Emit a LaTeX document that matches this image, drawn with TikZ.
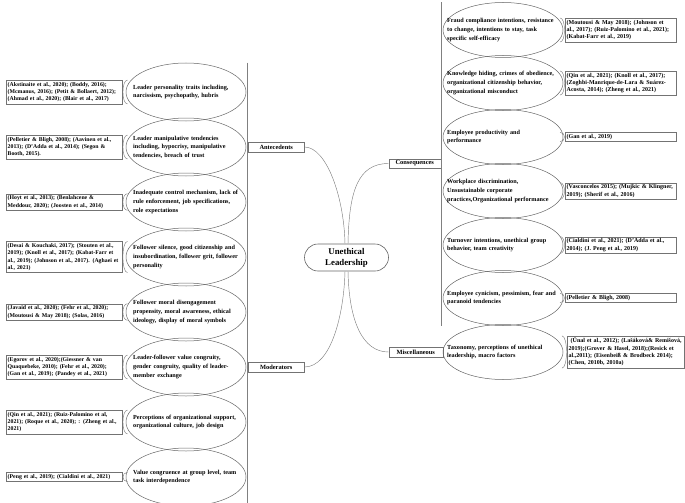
\documentclass[tikz,border=0pt]{standalone}
\usepackage{fontspec}
\setmainfont{Liberation Serif}
\usetikzlibrary{shapes.geometric}
\newcommand\cfnt{\fontsize{6.0}{7.3}\selectfont\bfseries\hyphenpenalty=10000 \exhyphenpenalty=10000 }
\newcommand\lcfnt{\fontsize{5.8}{7.3}\selectfont\bfseries\hyphenpenalty=10000 \exhyphenpenalty=10000 }
\newcommand\efnt{\fontsize{6.2}{8.6}\selectfont\bfseries\hyphenpenalty=10000 \exhyphenpenalty=10000 }
\newcommand\kfnt{\fontsize{6.4}{7}\selectfont\bfseries}
\newcommand\mfnt{\fontsize{8.8}{11}\selectfont\bfseries}
\begin{document}
\begin{tikzpicture}[x=1pt,y=-1pt,
 line/.style={draw=black!50, line width=0.45pt},
 cite/.style={draw=black!55, line width=0.45pt, font=\cfnt, align=left, text width=#1, inner xsep=1.5pt, inner ysep=1.8pt, anchor=west},
 lcite/.style={cite=#1, font=\lcfnt},
 oval/.style={draw=black!60, line width=0.5pt, ellipse, minimum width=120pt, minimum height=#1, inner sep=0pt},
 otext/.style={font=\efnt, align=left, text width=120pt, inner sep=0pt, anchor=west},
 cat/.style={draw=black!55, line width=0.45pt, font=\kfnt, minimum height=9.5pt, inner ysep=0.5pt, inner xsep=1pt, anchor=west, minimum width=#1},
 core/.style={draw=black!60, line width=0.6pt, rounded corners=13.5pt, minimum width=84pt, minimum height=27pt, font=\mfnt, align=center, inner sep=1pt}
]
\useasboundingbox (0,0) rectangle (685,503);

% centre
\node[core] (c) at (346.5,257.5) {Unethical\\Leadership};

% categories
\node[cat=56pt] (ant) at (248,147) {Antecedents};
\node[cat=56pt] (mod) at (248,367) {Moderators};
\node[cat=52pt, anchor=east] (con) at (441,163.5) {Consequences};
\node[cat=54pt, anchor=east] (mis) at (443,352) {Miscellaneous};

% left ellipses
\node[oval=58pt] (e1) at (186,92) {};
\node[oval=58pt] (e2) at (186,147) {};
\node[oval=58pt] (e3) at (186,202) {};
\node[oval=58pt] (e4) at (186,257) {};
\node[oval=58pt] (e5) at (186,312) {};
\node[oval=58pt] (e6) at (186,367) {};
\node[oval=58pt] (e7) at (186,422) {};
\node[oval=58pt] (e8) at (186,477) {};
\node[otext] (t1) at ([xshift=-53pt]e1.center) {Leader personality traits including,\\narcissism, psychopathy, hubris};
\node[otext] (t2) at ([xshift=-53pt]e2.center) {Leader manipulative tendencies\\including, hypocrisy, manipulative\\tendencies, breach of trust};
\node[otext] (t3) at ([xshift=-53pt]e3.center) {Inadequate control mechanism, lack of\\rule enforcement, job specifications,\\role expectations};
\node[otext] (t4) at ([xshift=-53pt]e4.center) {Follower silence, good citizenship and\\insubordination, follower grit, follower\\personality};
\node[otext] (t5) at ([xshift=-53pt]e5.center) {Follower moral disengagement\\propensity, moral awareness, ethical\\ideology, display of moral symbols};
\node[otext] (t6) at ([xshift=-53pt]e6.center) {Leader-follower value congruity,\\gender congruity, quality of leader-\\member exchange};
\node[otext] (t7) at ([xshift=-53pt]e7.center) {Perceptions of organizational support,\\organizational culture, job design};
\node[otext] (t8) at ([xshift=-53pt]e8.center) {Value congruence at group level, team\\task interdependence};

% left citation boxes
\node[lcite=113pt] (b1) at (6,92) {(Akstinaite et al., 2020); (Boddy, 2016);\\(Mcmanus, 2016); (Petit \& Bollaert, 2012);\\(Ahmad et al., 2020); (Blair et al., 2017)};
\node[lcite=113pt] (b2) at (6,147) {(Pelletier \& Bligh, 2008); (Aavinen et al.,\\2013); (D'Adda et al., 2014); (Segon \&\\Booth, 2015).};
\node[lcite=113pt] (b3) at (6,202) {(Hoyt et al., 2013); (Benlahcene \&\\Meddour, 2020); (Joosten et al., 2014)};
\node[lcite=113pt] (b4) at (6,257) {(Desai \& Kouchaki, 2017); (Stouten et al.,\\2019); (Knoll et al., 2017); (Kabat-Farr et\\al., 2019); (Johnson et al., 2017). (Aghaei~et\\al., 2021)};
\node[lcite=113pt] (b5) at (6,312) {(Javaid et al., 2020); (Fehr et al., 2020);\\(Moutousi \& May 2018); (Solas, 2016)};
\node[lcite=113pt] (b6) at (6,367) {(Egorov et al., 2020);(Giessner \& van\\Quaquebeke, 2010); (Fehr et al., 2020);\\(Gan et al., 2019); (Pandey et al., 2021)};
\node[lcite=113pt] (b7) at (6,422) {(Qin et al., 2021); (Ruiz-Palomino et al,\\2021); (Roque et al., 2020); : (Zheng~et~al.,\\2021)};
\node[lcite=113pt] (b8) at (6,477) {(Peng et al., 2019); (Cialdini et al., 2021)};

% right ellipses
\node[oval=55pt] (o1) at (503,30) {};
\node[oval=55pt] (o2) at (503,83) {};
\node[oval=55pt] (o3) at (503,137) {};
\node[oval=55pt] (o4) at (503,191) {};
\node[oval=55pt] (o5) at (503,245) {};
\node[oval=55pt] (o6) at (503,298) {};
\node[oval=55pt] (o7) at (503,352) {};
\node[otext] (u1) at ([xshift=-56pt]o1.center) {Fraud compliance intentions, resistance\\to change, intentions to stay, task\\specific self-efficacy};
\node[otext] (u2) at ([xshift=-56pt]o2.center) {Knowledge hiding, crimes of obedience,\\organizational citizenship behavior,\\organizational misconduct};
\node[otext] (u3) at ([xshift=-56pt]o3.center) {Employee productivity and\\performance};
\node[otext] (u4) at ([xshift=-56pt]o4.center) {Workplace discrimination,\\Unsustainable corporate\\practices,Organizational performance};
\node[otext] (u5) at ([xshift=-56pt]o5.center) {Turnover intentions, unethical group\\behavior, team creativity};
\node[otext] (u6) at ([xshift=-56pt]o6.center) {Employee cynicism, pessimism, fear and\\paranoid tendencies};
\node[otext] (u7) at ([xshift=-56pt]o7.center) {Taxonomy, perceptions of unethical\\leadership, macro factors};

% right citation boxes
\node[cite=108pt] (r1) at (565,30) {(Moutousi \& May 2018); (Johnson et\\al., 2017); (Ruiz-Palomino et al., 2021);\\(Kabat-Farr et al., 2019)};
\node[cite=108pt] (r2) at (565,83) {(Qin et al., 2021); (Knoll et al., 2017);\\(Zoghbi-Manrique-de-Lara \& Suárez-\\Acosta, 2014); (Zheng et al., 2021)};
\node[cite=108pt] (r3) at (565,137) {(Gan et al., 2019)};
\node[cite=108pt] (r4) at (565,191) {(Vasconcelos 2015); (Mujkic \& Klingner,\\2019); (Sherif et al., 2016)};
\node[cite=108pt] (r5) at (565,245) {(Cialdini et al., 2021); (D'Adda et al.,\\2014); (J. Peng et al., 2019)};
\node[cite=108pt] (r6) at (565,298) {(Pelletier \& Bligh, 2008)};
\node[cite=114pt] (r7) at (567,352) {\ (Ünal et al., 2012); (Lašáková\& Remišová,\\2019);(Grover \& Hasel, 2018);(Resick et\\al.,2011); (Eisenbeiß \& Brodbeck 2014);\\(Chen, 2010b, 2010a)};

% brackets
\foreach \n in {b1,b2,b3,b4,b5,b6,b7,b8}
  \draw[line] ([xshift=5pt]\n.north east) .. controls ([xshift=-1pt]\n.north east) and ([xshift=-1pt]\n.south east) .. ([xshift=5pt]\n.south east);
\foreach \n in {r1,r2,r3,r4,r5,r6,r7}
  \draw[line] ([xshift=-5pt]\n.north west) .. controls ([xshift=1pt]\n.north west) and ([xshift=1pt]\n.south west) .. ([xshift=-5pt]\n.south west);

% vertical bars
\draw[line] ([xshift=1pt]e1.east |- e1.north) -- ([xshift=1pt]e8.east |- e8.south);
\draw[line] ([xshift=-2pt]o1.west |- o1.north) -- ([xshift=-2pt]o6.west |- o6.south);

% main connectors
\draw[line] (ant.east) .. controls +(22,0) and +(-1,-47) .. ([xshift=-1.5pt]c.north);
\draw[line] ([xshift=1.5pt]c.north) .. controls +(1,-52) and +(-31,0) .. (con.west);
\draw[line] (mod.east) .. controls +(27,0) and +(-1,42) .. ([xshift=-1.5pt]c.south);
\draw[line] ([xshift=1.5pt]c.south) .. controls +(1,50) and +(-26,0) .. (mis.west);
\end{tikzpicture}
\end{document}
